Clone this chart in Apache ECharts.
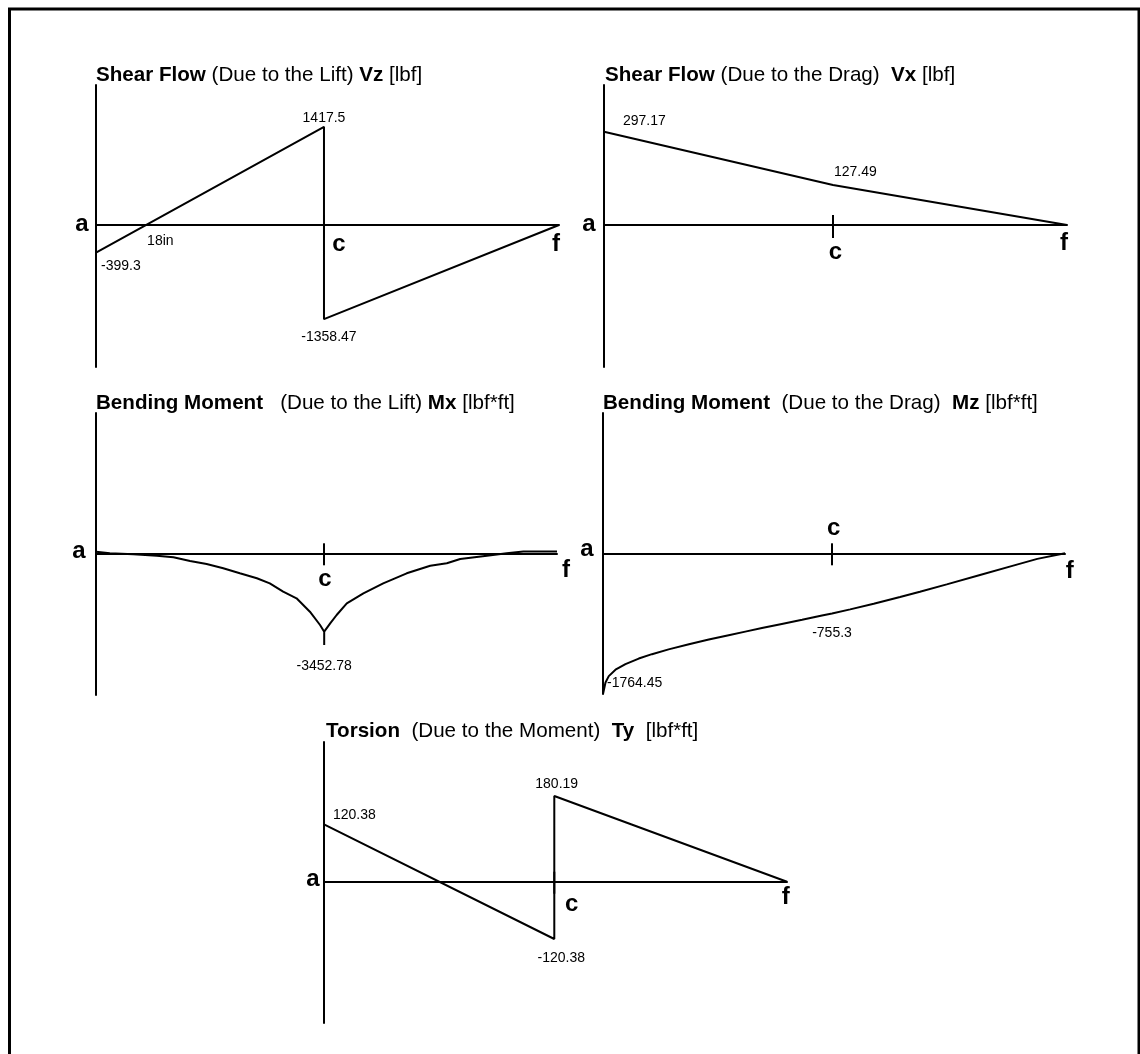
<!DOCTYPE html>
<html>
<head>
<meta charset="utf-8">
<script src="https://cdn.jsdelivr.net/npm/echarts@6/dist/echarts.min.js"></script>
<style>
  html, body { margin: 0; padding: 0; background: #fff; }
  #chart { width: 1140px; height: 1054px; }
</style>
</head>
<body>
<div id="chart"></div>
<script>
// Load diagrams along the span a -> c -> f; stations are % of the span.

// Shear flow due to the lift, Vz [lbf]
const vzStation = [0, 49.24, 49.24, 100];
const vzValue = [-399.3, 1417.5, -1358.47, 0];

// Shear flow due to the drag, Vx [lbf]
const vxStation = [0, 49.46, 100];
const vxValue = [297.17, 127.49, 0];

// Bending moment due to the lift, Mx [lbf*ft]
const mxStation = [0, 3.0, 8.1, 13.2, 16.8, 20.4, 24.0, 27.6, 31.2, 34.9, 37.7, 40.6, 43.5, 46.4, 48.6,
  49.5, 49.5, 49.5, 50.8, 52.2, 54.4, 58.0, 62.3, 67.4, 72.5, 76.1, 79.0, 84.8, 89.1, 92.7, 100];
const mxValue = [60, 0, -38, -90, -151, -290, -403, -565, -753, -941, -1130, -1446, -1694, -2199, -2700,
  -2952, -3452.78, -2952, -2636, -2323, -1883, -1506, -1130, -753, -467, -377, -215, -90, 0, 70, 70];

// Bending moment due to the drag, Mz [lbf*ft]
const mzStation = [0, 0.54, 1.25, 2.7, 4.86, 7.74, 10.6, 14.2, 18.6, 22.9, 27.2, 30.8, 34.4, 38.7, 43.1,
  47.4, 49.57, 53.5, 58.6, 64.3, 68.6, 74.4, 81.6, 88.8, 94, 100];
const mzValue = [-1764.45, -1620, -1540, -1460, -1390, -1320, -1265, -1205, -1140, -1082, -1027, -982,
  -938, -886, -833, -781, -755.3, -703, -632, -548, -482, -390, -273, -155, -70, 0];

// Torsion due to the moment, Ty [lbf*ft]
const tyStation = [0, 49.74, 49.74, 100];
const tyValue = [120.38, -120.38, 180.19, 0];

// Station names and where c sits on each diagram
const stationNames = ['a', 'c', 'f'];
const cStation = [49.24, 49.46, 49.46, 49.57, 49.74];

// Zero crossing of the lift shear flow
const crossingText = '18in';

// Titles: [bold, normal, bold, normal]
const titleParts = [
  ['Shear Flow', ' (Due to the Lift) ', 'Vz', ' [lbf]'],
  ['Shear Flow', ' (Due to the Drag)  ', 'Vx', ' [lbf]'],
  ['Bending Moment', '   (Due to the Lift) ', 'Mx', ' [lbf*ft]'],
  ['Bending Moment', '  (Due to the Drag)  ', 'Mz', ' [lbf*ft]'],
  ['Torsion', '  (Due to the Moment)  ', 'Ty', '  [lbf*ft]']
];

// Indices of the points whose values are written on the diagram
const labelledPoints = [[0, 1, 2], [0, 1], [16], [0, 16], [0, 1, 2]];

const stations = [vzStation, vxStation, mxStation, mzStation, tyStation];
const values = [vzValue, vxValue, mxValue, mzValue, tyValue];

// ---- layout ----
const FONT = '"Liberation Sans", Arial, Helvetica, sans-serif';
const TITLE_SIZE = 20.6;
const layout = [
  { grid: { left: 96, top: 85, width: 463, height: 282 }, y: [-2049, 2020], titlePos: [96, 64.5],
    letters: [[-14, -1], [15, 19], [-3, 19]], tick: [10, 13],
    labels: [{ align: 'left', dx: 5, dy: 13 }, { align: 'center', dx: 0, dy: -9 }, { align: 'center', dx: 5, dy: 18 }] },
  { grid: { left: 604, top: 85, width: 463, height: 282 }, y: [-452.3, 445.9], titlePos: [605, 64.5],
    letters: [[-15, -1], [2.5, 27], [-3, 18.5]], tick: [10, 13],
    labels: [{ align: 'left', dx: 19, dy: -11 }, { align: 'left', dx: 1, dy: -13 }] },
  { grid: { left: 96, top: 413, width: 461, height: 282 }, y: [-5335, 5282], titlePos: [96, 392.5],
    letters: [[-17, -2], [1, 26], [9, 17]], tick: [10, 12],
    labels: [{ align: 'center', dx: 0, dy: 21 }] },
  { grid: { left: 603, top: 413, width: 462, height: 281 }, y: [-1764.45, 1759.4], titlePos: [603, 392.5],
    letters: [[-16, -3.5], [1.7, -24.7], [4.7, 18.4]], tick: [10, 12],
    labels: [{ align: 'left', dx: 4, dy: -11 }, { align: 'center', dx: 0, dy: 20 }] },
  { grid: { left: 324, top: 742, width: 463, height: 281 }, y: [-296.8, 293.5], titlePos: [326, 720.5],
    letters: [[-11, -2], [17.4, 23], [-1.2, 16]], tick: [10, 12],
    labels: [{ align: 'left', dx: 9, dy: -9.5 }, { align: 'center', dx: 7, dy: 19.6 }, { align: 'center', dx: 2.4, dy: -12 }] }
];

const chart = echarts.init(document.getElementById('chart'), null, { renderer: 'canvas' });

const grids = [], xAxes = [], yAxes = [], series = [], titles = [];

layout.forEach((L, i) => {
  grids.push(Object.assign({ containLabel: false }, L.grid));
  xAxes.push({
    type: 'value', gridIndex: i, min: 0, max: 100,
    axisLine: { show: true, onZero: true, lineStyle: { color: '#000', width: 2 } },
    axisTick: { show: false }, axisLabel: { show: false }, splitLine: { show: false }
  });
  yAxes.push({
    type: 'value', gridIndex: i, min: L.y[0], max: L.y[1],
    axisLine: { show: true, onZero: true, lineStyle: { color: '#000', width: 2 } },
    axisTick: { show: false }, axisLabel: { show: false }, splitLine: { show: false }
  });

  const p = titleParts[i];
  titles.push({
    left: L.titlePos[0], top: L.titlePos[1], padding: 0,
    text: '{b|' + p[0] + '}' + p[1] + '{b|' + p[2] + '}' + p[3],
    textStyle: {
      fontFamily: FONT, fontSize: TITLE_SIZE, fontWeight: 'normal', color: '#000',
      rich: { b: { fontFamily: FONT, fontSize: TITLE_SIZE, fontWeight: 'bold', color: '#000' } }
    }
  });

  // the diagram itself
  series.push({
    type: 'line', xAxisIndex: i, yAxisIndex: i, symbol: 'none', animation: false, silent: true,
    data: stations[i].map((s, k) => [s, values[i][k]]),
    lineStyle: { color: '#000', width: 2 }
  });

  // tick at station c
  series.push({
    type: 'custom', xAxisIndex: i, yAxisIndex: i, animation: false, silent: true, clip: false,
    data: [[cStation[i], 0]],
    renderItem: (params, api) => {
      const pt = api.coord([api.value(0), api.value(1)]);
      return { type: 'line', shape: { x1: pt[0], y1: pt[1] - L.tick[0], x2: pt[0], y2: pt[1] + L.tick[1] },
        style: { stroke: '#000', lineWidth: 2 } };
    }
  });

  // station letters a, c, f
  const letterStations = [0, cStation[i], 100];
  series.push({
    type: 'custom', xAxisIndex: i, yAxisIndex: i, animation: false, silent: true, clip: false,
    data: letterStations.map(s => [s, 0]),
    renderItem: (params, api) => {
      const pt = api.coord([api.value(0), api.value(1)]);
      const off = L.letters[params.dataIndex];
      return { type: 'text', x: pt[0] + off[0], y: pt[1] + off[1],
        style: { text: stationNames[params.dataIndex], fill: '#000', fontFamily: FONT, fontSize: 24,
          fontWeight: 'bold', align: 'center', verticalAlign: 'middle' } };
    }
  });

  // value labels
  const idx = labelledPoints[i];
  series.push({
    type: 'custom', xAxisIndex: i, yAxisIndex: i, animation: false, silent: true, clip: false,
    data: idx.map(k => [stations[i][k], values[i][k]]),
    renderItem: (params, api) => {
      const v = api.value(1);
      const pt = api.coord([api.value(0), v]);
      const st = L.labels[params.dataIndex];
      return { type: 'text', x: pt[0] + st.dx, y: pt[1] + st.dy,
        style: { text: String(v), fill: '#000', fontFamily: FONT, fontSize: 14,
          align: st.align, verticalAlign: 'middle' } };
    }
  });
});

// zero crossing of the Vz line between a and c
const crossing = vzStation[0] + (vzStation[1] - vzStation[0]) * (-vzValue[0]) / (vzValue[1] - vzValue[0]);
series.push({
  type: 'custom', xAxisIndex: 0, yAxisIndex: 0, animation: false, silent: true, clip: false,
  data: [[crossing, 0]],
  renderItem: (params, api) => {
    const pt = api.coord([api.value(0), api.value(1)]);
    return { type: 'text', x: pt[0] + 1, y: pt[1] + 16,
      style: { text: crossingText, fill: '#000', fontFamily: FONT, fontSize: 14, align: 'left', verticalAlign: 'middle' } };
  }
});

chart.setOption({
  backgroundColor: '#fff',
  animation: false,
  title: titles,
  grid: grids,
  xAxis: xAxes,
  yAxis: yAxes,
  series: series,
  graphic: [{
    type: 'rect', silent: true,
    shape: { x: 9.5, y: 9, width: 1129.5, height: 1100 },
    style: { fill: 'none', stroke: '#000', lineWidth: 3 }
  }]
});
</script>
</body>
</html>
